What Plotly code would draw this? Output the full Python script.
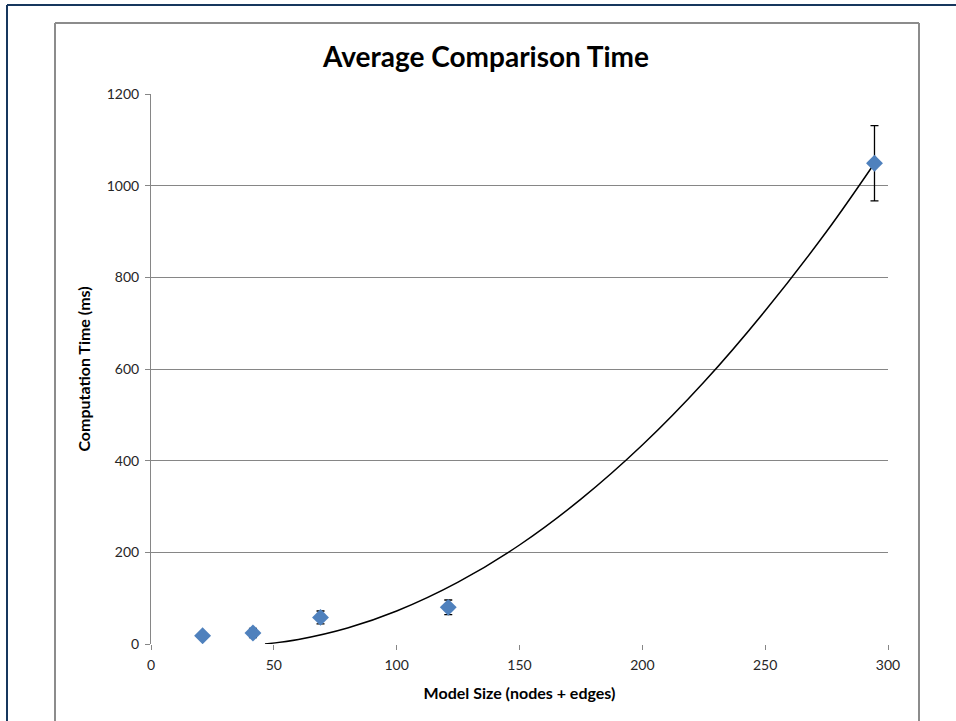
import plotly.graph_objects as go

# ---- data ----
model_size = [21, 41.5, 69, 121, 294.5]
avg_time_ms = [18, 24, 58, 80, 1049]
err_ms = [3, 10, 14, 16, 82]

# trendline points
trend_x = [46.4, 60, 80, 100, 125, 150, 175, 200, 225, 250, 275, 294.5]
trend_y = [0, 10, 35, 72, 135, 216, 316, 434, 571, 727, 900, 1049]

x_ticks = [0, 50, 100, 150, 200, 250, 300]
y_ticks = [0, 200, 400, 600, 800, 1000, 1200]

W, H = 956, 721
L, R, T, B = 151, 888, 94, 644  # plot area in pixels


def px(x):
    return (x - L) / (R - L)


def py(y):
    return (B - y) / (B - T)


fig = go.Figure()
fig.add_trace(go.Scatter(
    x=trend_x, y=trend_y, mode="lines", line=dict(color="black", width=1.5, shape="spline"),
    hoverinfo="skip", showlegend=False))
fig.add_trace(go.Scatter(
    x=model_size, y=avg_time_ms, mode="markers",
    marker=dict(symbol="diamond", size=13, color="#4F81BD"),
    error_y=dict(type="data", array=err_ms, visible=True, color="black", thickness=1.3, width=4),
    showlegend=False))

font_family = "Lato, 'Open Sans', sans-serif"

fig.update_layout(
    width=W, height=H,
    margin=dict(l=L, r=W - R, t=T, b=H - B),
    paper_bgcolor="white", plot_bgcolor="white",
    title=dict(text="<b>Average Comparison Time</b>", x=486 / W, xanchor="center",
               y=1 - 57 / H, yanchor="middle",
               font=dict(family=font_family, size=28, color="black")),
    xaxis=dict(range=[0, 300], tickvals=x_ticks, showgrid=False, zeroline=False,
               showline=False, ticks="outside", ticklen=5, tickcolor="#868686",
               ticklabelstandoff=3,
               tickfont=dict(family=font_family, size=14, color="#262626"),
               title=dict(text="<b>Model Size (nodes + edges)</b>", standoff=16,
                          font=dict(family=font_family, size=16, color="black"))),
    yaxis=dict(range=[0, 1200], tickvals=y_ticks, showgrid=True, gridcolor="#868686", gridwidth=1,
               zeroline=False, showline=True, linecolor="#868686", linewidth=1,
               ticks="outside", ticklen=5, tickcolor="#868686",
               ticklabelstandoff=3,
               tickfont=dict(family=font_family, size=14, color="#262626"),
               title=dict(text="<b>Computation Time (ms)</b>", standoff=12,
                          font=dict(family=font_family, size=16, color="black"))),
    shapes=[
        # outer dark-blue frame (top & left)
        dict(type="line", xref="paper", yref="paper", x0=px(7), x1=px(956), y0=py(5), y1=py(5),
             line=dict(color="#17375E", width=2)),
        dict(type="line", xref="paper", yref="paper", x0=px(7), x1=px(7), y0=py(5), y1=py(721),
             line=dict(color="#17375E", width=2)),
        # gray chart box
        dict(type="line", xref="paper", yref="paper", x0=px(55), x1=px(919), y0=py(23), y1=py(23),
             line=dict(color="#8C8C8C", width=2)),
        dict(type="line", xref="paper", yref="paper", x0=px(55), x1=px(55), y0=py(23), y1=py(721),
             line=dict(color="#8C8C8C", width=2)),
        dict(type="line", xref="paper", yref="paper", x0=px(919), x1=px(919), y0=py(23), y1=py(721),
             line=dict(color="#8C8C8C", width=2)),
    ],
)

fig.write_html("out.html", config={"displayModeBar": False},
               post_script="document.body.style.margin='0';")
